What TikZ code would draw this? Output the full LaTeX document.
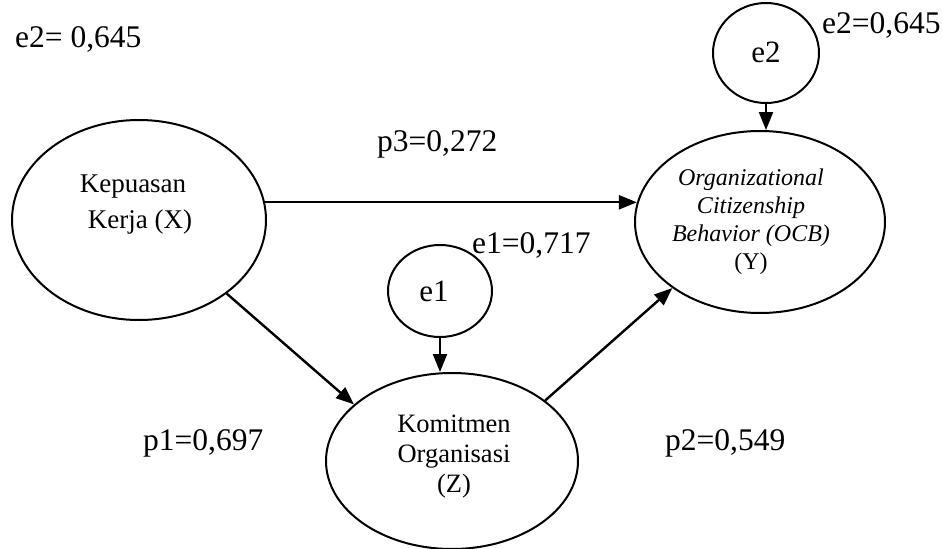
\documentclass[tikz,border=0pt]{standalone}
\usepackage{fontspec}
\setmainfont{Liberation Serif}
\usetikzlibrary{arrows.meta,shapes.geometric}
\begin{document}
\begin{tikzpicture}[x=1pt,y=-1pt,
  var/.style={draw,line width=2pt,ellipse,inner sep=0pt},
  lbl/.style={inner sep=0pt,anchor=base west,font=\fontsize{31.5}{36}\selectfont},
  txt/.style={inner sep=0pt,align=center},
  arr/.style={line width=2.4pt,-{Triangle[length=18pt,width=14pt]}}]
\useasboundingbox (0,0) rectangle (943,549);
% ellipses
\node[var,minimum width=254pt,minimum height=200pt] (X) at (139,220) {};
\node[var,minimum width=250pt,minimum height=182pt] (Y) at (760,222) {};
\node[var,minimum width=252pt,minimum height=176pt] (Z) at (452,461) {};
\node[var,minimum width=104pt,minimum height=92pt] (e1) at (440,291) {};
\node[var,minimum width=106pt,minimum height=100pt] (e2) at (766,53) {};
% texts inside
\node[txt,font=\fontsize{27}{36}\selectfont] (tX) at (133,205) {Kepuasan\\ \hspace*{14pt}Kerja (X)};
\node[txt,font=\fontsize{24}{28}\selectfont] (tY) at (751,222) {\textit{Organizational}\\ \textit{Citizenship}\\ \textit{Behavior (OCB)}\\ (Y)};
\node[txt,font=\fontsize{26.5}{30}\selectfont] (tZ) at (454,457) {Komitmen\\ Organisasi\\ (Z)};
\node[inner sep=0pt,font=\fontsize{31}{36}\selectfont] (te1) at (434,291) {e1};
\node[inner sep=0pt,font=\fontsize{31}{36}\selectfont] (te2) at (766,52) {e2};
% labels
\node[lbl] (L1) at (15,47) {e2= 0,645};
\node[lbl] (L2) at (822,33) {e2=0,645};
\node[lbl] (L3) at (377,151) {p3=0,272};
\node[lbl] (L4) at (472,253) {e1=0,717};
\node[lbl] (L5) at (143,450) {p1=0,697};
\node[lbl] (L6) at (665,450) {p2=0,549};
% arrows
\draw[arr] (X.8) -- (X.8 -| Y.171);
\draw[arr] (X.-40) -- (Z.150);
\draw[arr] (Z.33) -- (Y.217);
\draw[arr] (e1.south) -- (e1.south |- Z.north);
\draw[arr] (e2.south) -- (e2.south |- Y.north);
\end{tikzpicture}
\end{document}
